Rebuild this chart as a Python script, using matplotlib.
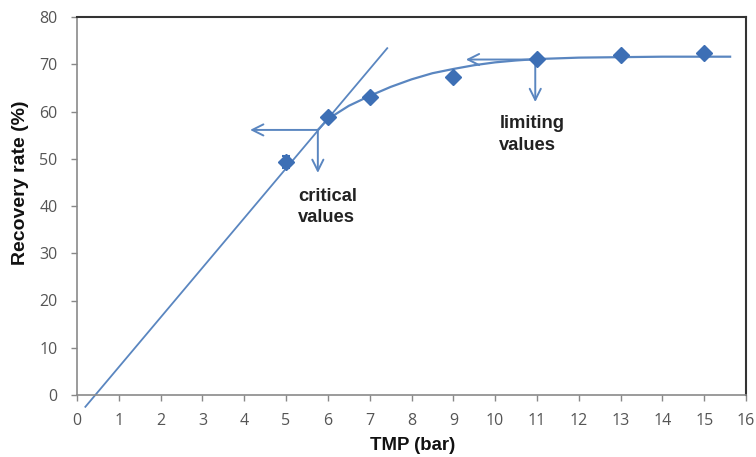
import matplotlib
matplotlib.use("Agg")
import matplotlib.pyplot as plt

# Measured recovery rate vs transmembrane pressure
tmp_bar = [5, 6, 7, 9, 11, 13, 15]
recovery = [49.3, 58.9, 63.1, 67.4, 71.2, 72.0, 72.3]
recovery_err = [1.2, 0, 0, 0, 0, 0, 0]

# Linear region through the origin zone (start, end)
lin_x = [0.2, 7.42]
lin_y = [-2.5, 73.4]

# Saturating trend curve
curve_x = [5.76, 6.0, 6.5, 7.0, 7.5, 8.0, 8.5, 9.0, 9.5, 10.0, 10.5, 11.0, 12.0, 13.0, 14.0, 15.0, 15.62]
curve_y = [56.1, 58.4, 61.2, 63.3, 65.2, 66.8, 68.1, 69.0, 69.8, 70.4, 70.8, 71.1, 71.4, 71.5, 71.6, 71.6, 71.6]

# Critical and limiting operating points
critical_pt = (5.76, 56.1)
critical_left_to = 4.14
critical_down_to = 47.0
limit_pt = (10.96, 71.0)
limit_left_to = 9.3
limit_down_to = 62.0

x_ticks = list(range(0, 17))
y_ticks = list(range(0, 81, 10))

line_col = "#5a86c0"
mark_col = "#3d6fb5"

fig = plt.figure(figsize=(7.56, 4.57), dpi=100)
ax = fig.add_axes([77 / 756, 62 / 457, 669 / 756, 378 / 457])

ax.plot(lin_x, lin_y, color=line_col, lw=1.3, clip_on=False, zorder=2)
ax.plot(curve_x, curve_y, color=line_col, lw=1.6, zorder=2)
ax.errorbar(tmp_bar, recovery, yerr=recovery_err, fmt="D", color=mark_col,
            ms=8.5, ecolor=mark_col, elinewidth=1.5, capsize=3, capthick=1.5, zorder=3)

arrow = dict(arrowstyle="->,head_length=0.8,head_width=0.4", color=line_col, lw=1.4,
             shrinkA=0, shrinkB=0)
ax.annotate("", xy=(critical_left_to, critical_pt[1]), xytext=critical_pt, arrowprops=arrow)
ax.annotate("", xy=(critical_pt[0], critical_down_to), xytext=critical_pt, arrowprops=arrow)
ax.annotate("", xy=(limit_left_to, limit_pt[1]), xytext=limit_pt, arrowprops=arrow)
ax.annotate("", xy=(limit_pt[0], limit_down_to), xytext=limit_pt, arrowprops=arrow)

ax.text(5.29, 43.8, "critical\nvalues", fontsize=13.2, fontweight="bold",
        family="Liberation Sans", color="#222222", va="top", ha="left", linespacing=1.33)
ax.text(10.1, 59.2, "limiting\nvalues", fontsize=13.2, fontweight="bold",
        family="Liberation Sans", color="#222222", va="top", ha="left", linespacing=1.33)

ax.set_xlim(0, 16)
ax.set_ylim(0, 80)
ax.set_xticks(x_ticks)
ax.set_yticks(y_ticks)
ax.tick_params(axis="both", direction="out", length=4, width=1, color="#888888",
               labelsize=11.5, labelcolor="#555555")
ax.tick_params(axis="x", pad=9)
ax.tick_params(axis="y", pad=10)
for lab in ax.get_xticklabels() + ax.get_yticklabels():
    lab.set_family("Open Sans")

for side in ("left", "bottom"):
    ax.spines[side].set_color("#8a8a8a")
    ax.spines[side].set_linewidth(1.2)
for side in ("top", "right"):
    ax.spines[side].set_color("#333333")
    ax.spines[side].set_linewidth(1.5)

fig.text(413 / 756, 1 - 446 / 457, "TMP (bar)", fontsize=13.4, fontweight="bold",
         family="Liberation Sans", ha="center", va="center", color="#111111")
fig.text(21 / 756, 1 - 183 / 457, "Recovery rate (%)", fontsize=14, fontweight="bold",
         family="Liberation Sans", ha="center", va="center", rotation=90, color="#111111")

fig.savefig("out.png", dpi=100)
